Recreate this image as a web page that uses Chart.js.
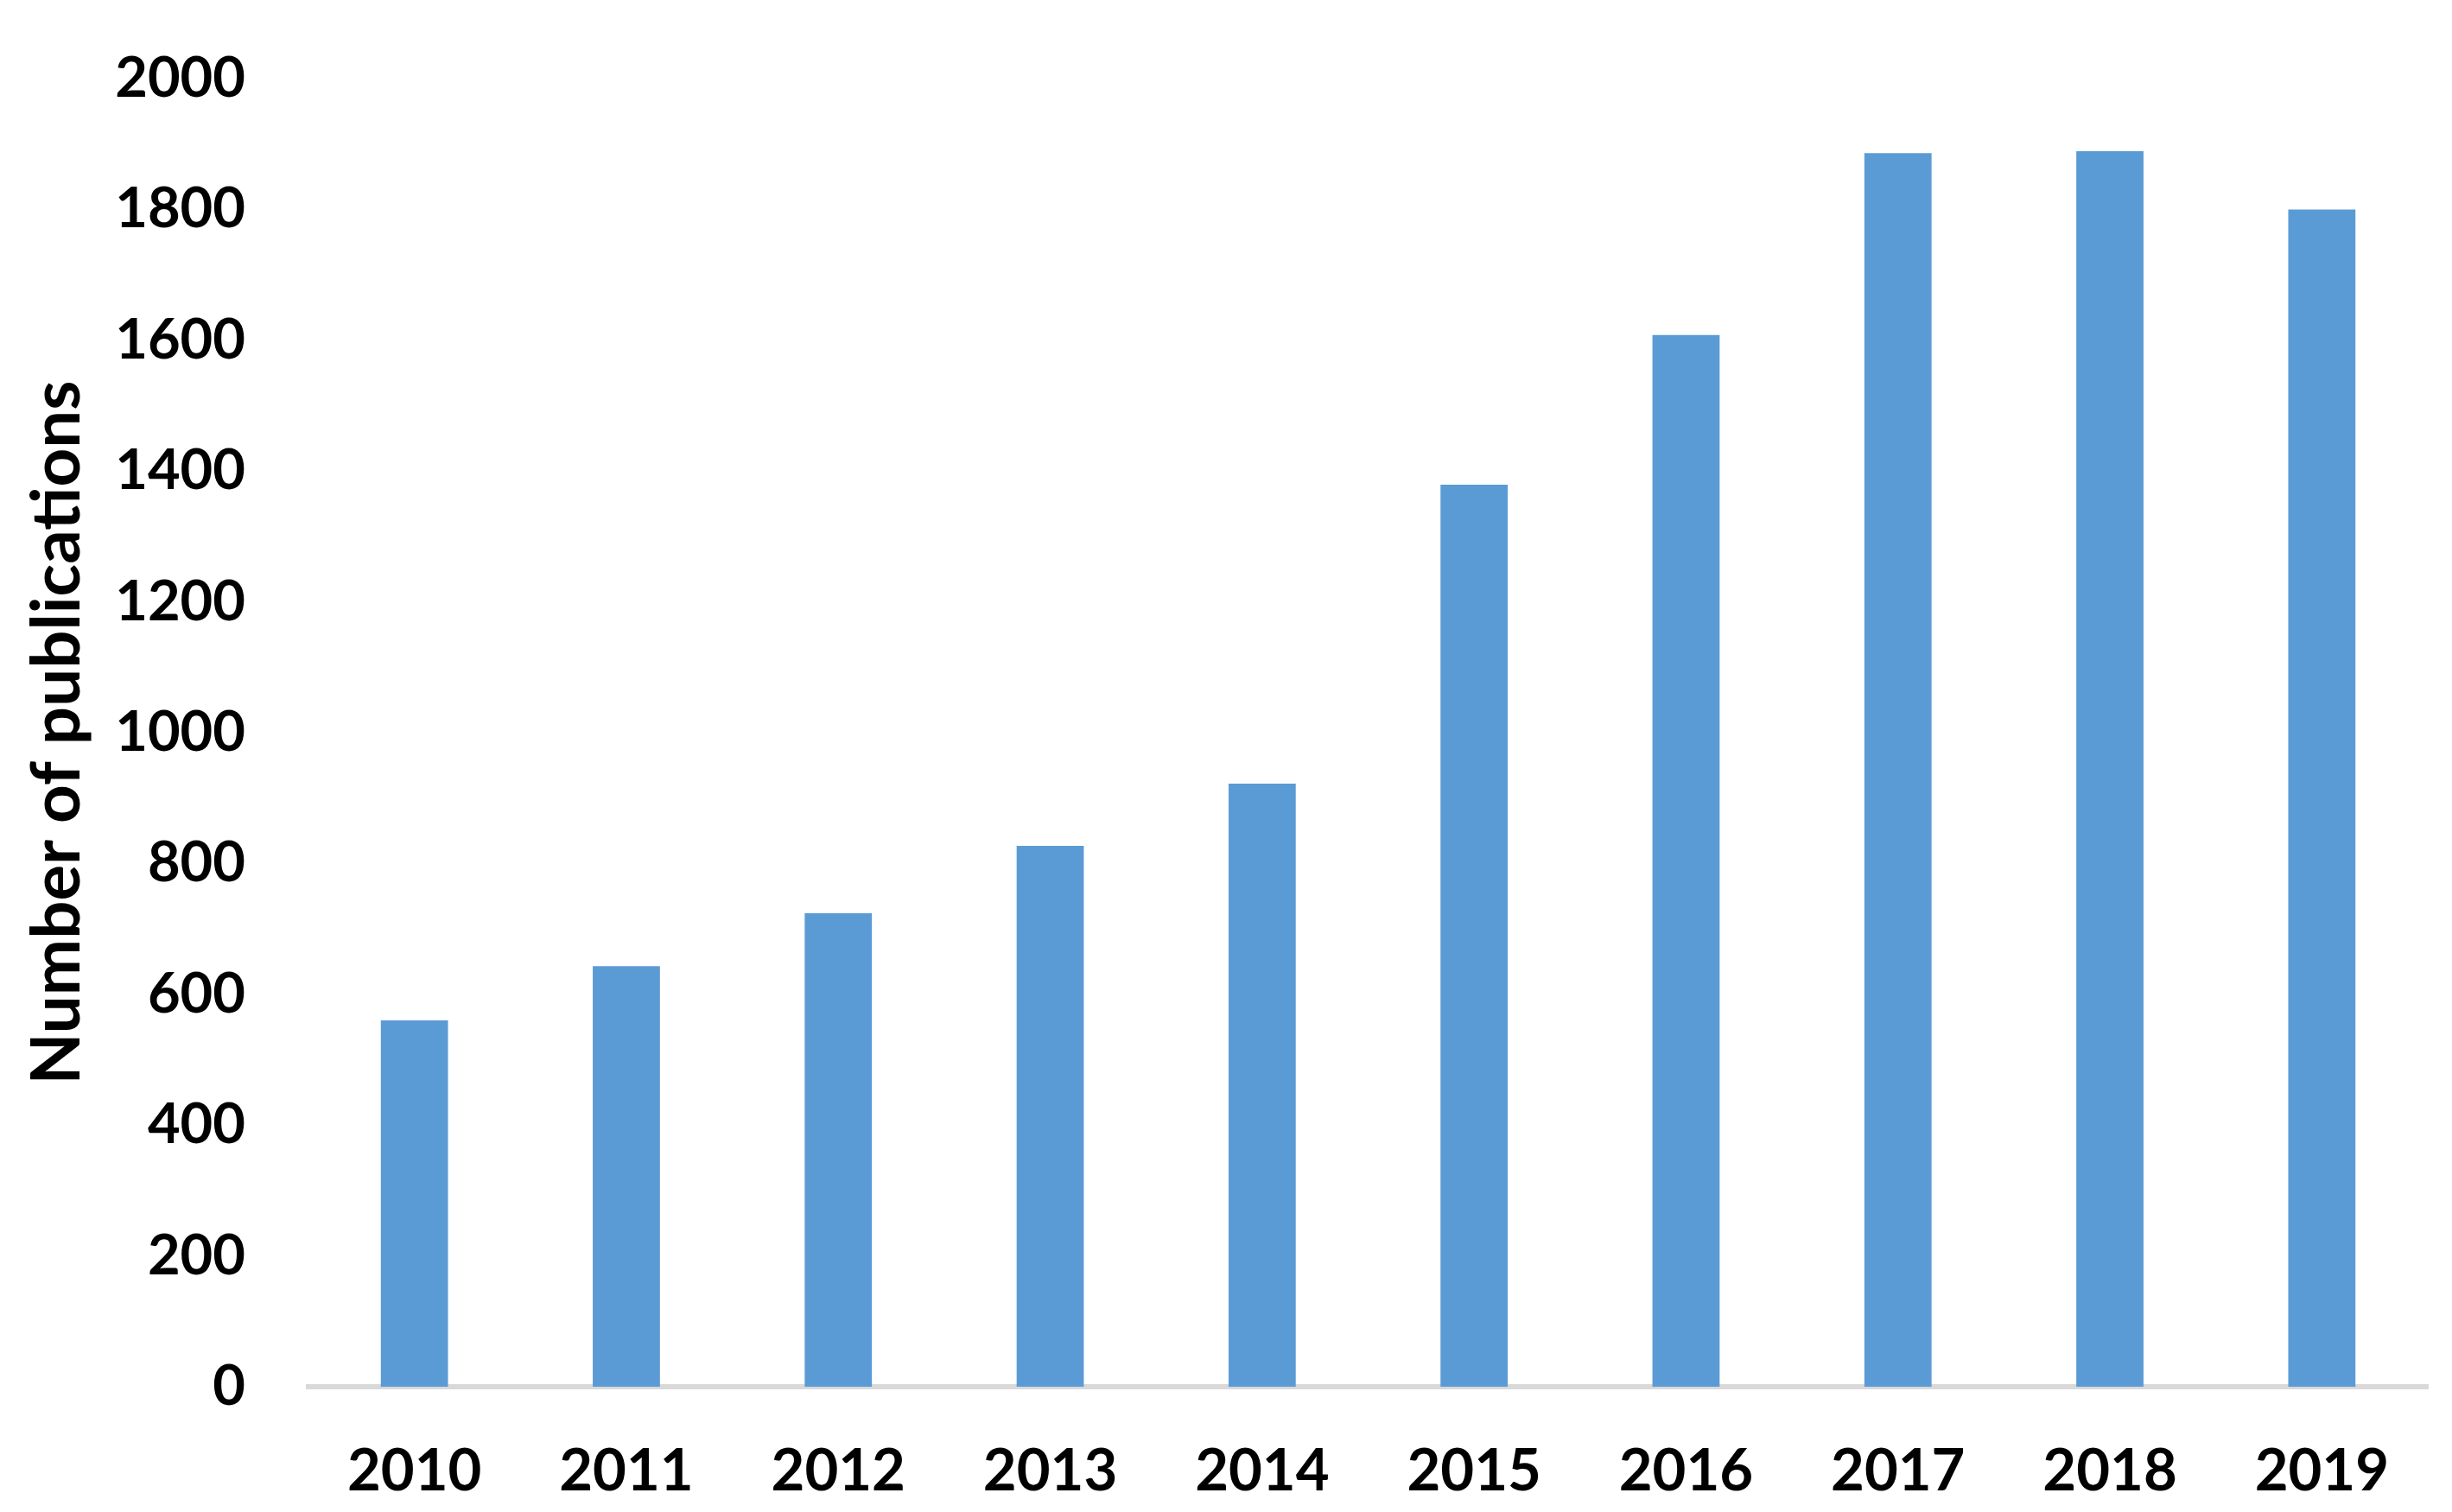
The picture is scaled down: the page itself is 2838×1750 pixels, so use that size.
<!DOCTYPE html>
<html>
<head>
<meta charset="utf-8">
<style>
  html, body { margin: 0; padding: 0; background: #fff; }
  #wrap { width: 2838px; height: 1750px; }
</style>
<script src="https://cdn.jsdelivr.net/npm/chart.js@4/dist/chart.umd.min.js"></script>
</head>
<body>
<div id="wrap"><canvas id="pubChart"></canvas></div>
<script>
// Data
const years = ['2010', '2011', '2012', '2013', '2014', '2015', '2016', '2017', '2018', '2019'];
const publications = [560, 643, 724, 827, 922, 1379, 1608, 1886, 1889, 1800];
const yTicks = [0, 200, 400, 600, 800, 1000, 1200, 1400, 1600, 1800, 2000];

const fontFamily = 'Lato, "Open Sans", sans-serif';

const ctx = document.getElementById('pubChart').getContext('2d');
new Chart(ctx, {
    type: 'bar',
    data: {
        labels: years,
        datasets: [{
            label: 'Number of publications',
            data: publications,
            backgroundColor: '#5b9bd5',
            borderWidth: 0,
            categoryPercentage: 1,
            barPercentage: 0.317
        }]
    },
    options: {
        responsive: true,
        maintainAspectRatio: false,
        animation: false,
        layout: {
            padding: { top: 91, right: 28, bottom: 0, left: 20 }
        },
        plugins: {
            legend: { display: false },
            tooltip: { enabled: false }
        },
        scales: {
            x: {
                grid: { display: false, drawTicks: false },
                border: { display: true, color: '#d9d9d9', width: 6 },
                ticks: {
                    color: '#000',
                    padding: 58,
                    font: { family: fontFamily, size: 67, weight: 'bold' }
                },
                afterFit: function(axis) { axis.height = 145; }
            },
            y: {
                min: 0,
                max: 2000,
                grid: { display: false, drawTicks: false },
                border: { display: false },
                afterBuildTicks: function(axis) {
                    axis.ticks = yTicks.map(v => ({ value: v }));
                },
                ticks: {
                    color: '#000',
                    padding: 73,
                    font: { family: fontFamily, size: 65, weight: 'bold' },
                    callback: function(value) { return String(value); }
                },
                title: {
                    display: true,
                    text: 'Number of publications',
                    color: '#000',
                    padding: { top: 0, bottom: 0 },
                    font: { family: fontFamily, size: 78, weight: 'bold' }
                },
                afterFit: function(axis) {
                    axis.width = 337;
                    axis.paddingTop = 0;
                    axis.paddingBottom = 0;
                }
            }
        }
    }
});
</script>
</body>
</html>
